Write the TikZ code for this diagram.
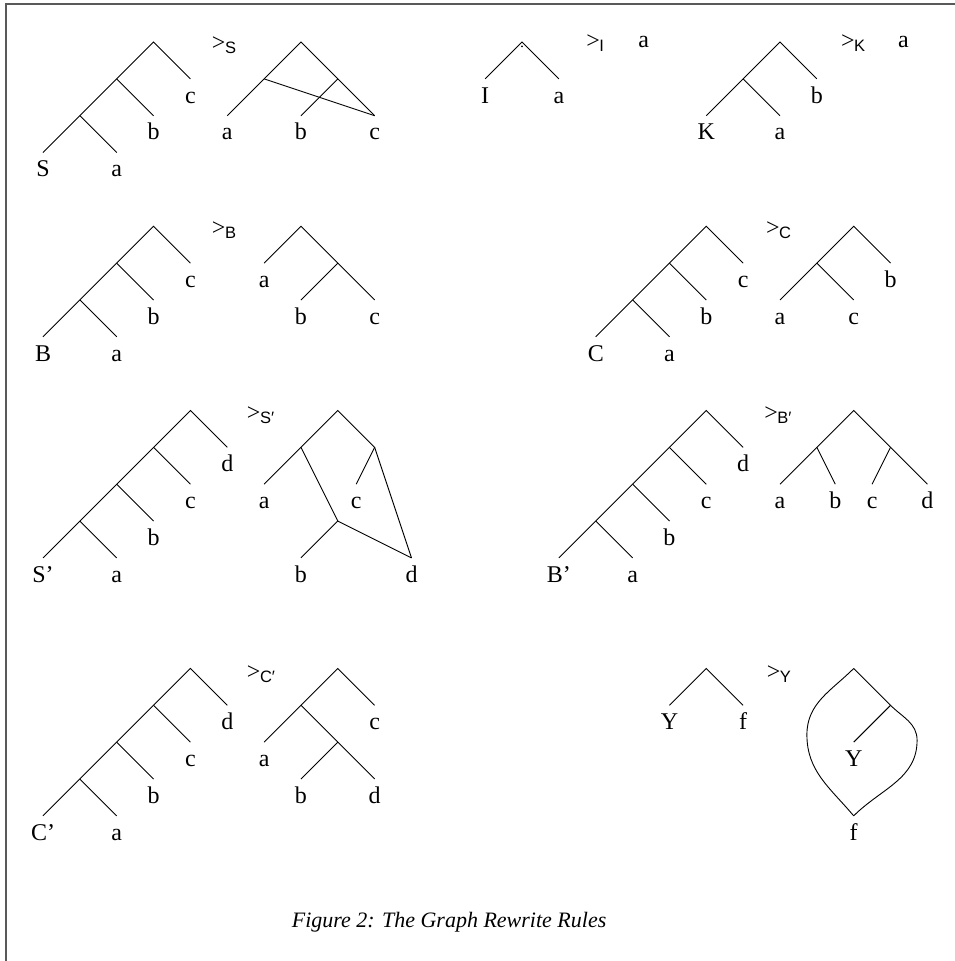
\documentclass[tikz,border=0pt]{standalone}
\usepackage{fontspec}
\setmainfont{Liberation Serif}
\setsansfont{Liberation Sans}
\usetikzlibrary{positioning}

\newcommand{\rwto}[1]{\raisebox{3pt}{\fontsize{24}{24}\selectfont >}\kern-0.5pt\textsf{\fontsize{16.5}{16.5}\selectfont #1}}

\begin{document}
\begin{tikzpicture}[
    x=36.85pt, y=36.85pt,
    edge/.style={line width=0.9pt},
    leaf/.style={anchor=north, inner sep=0pt, text height=24pt, text depth=6pt,
                 font=\fontsize{24}{24}\selectfont},
    rule/.style={anchor=base west, inner sep=0pt},
    result/.style={anchor=base west, inner sep=0pt, font=\fontsize{24}{24}\selectfont},
    caption/.style={anchor=base, inner sep=0pt, font=\fontsize{22}{22}\selectfont\itshape},
    frame/.style={draw=black!65, line width=1.6pt},
]
    \useasboundingbox (-1.167,1.140) rectangle (24.749,-24.939);

    % ── Frame (left and top edges only) ──
    \draw[frame] (-1.004,-24.939) -- (-1.004,1.031) -- (24.749,1.031);

    % ── S rule ──
    \coordinate (sl0) at (3,0);
    \coordinate (sl1) at (2,-1);
    \coordinate (sl2) at (1,-2);
    \node[leaf] (slf) at (0,-3) {S};
    \node[leaf] (sla) at (2,-3) {a};
    \node[leaf] (slb) at (3,-2) {b};
    \node[leaf] (slc) at (4,-1) {c};
    \draw[edge] (slf.north) -- (sl2) -- (sl1) -- (sl0) -- (slc.north);
    \draw[edge] (sl1) -- (slb.north);
    \draw[edge] (sl2) -- (sla.north);

    \node[rule] (sto) at (4.58,-0.30) {\rwto{S}};

    \coordinate (sr0) at (7,0);
    \coordinate (srl) at (6,-1);
    \coordinate (srr) at (8,-1);
    \node[leaf] (sra) at (5,-2) {a};
    \node[leaf] (srb) at (7,-2) {b};
    \node[leaf] (src) at (9,-2) {c};
    \draw[edge] (sra.north) -- (srl) -- (sr0) -- (srr) -- (src.north);
    \draw[edge] (srr) -- (srb.north);
    \draw[edge] (srl) -- (src.north);

    % ── I rule ──
    \coordinate (il0) at (13,0);
    \node[leaf] (ilf) at (12,-1) {I};
    \node[leaf] (ila) at (14,-1) {a};
    \draw[edge] (ilf.north) -- (il0) -- (ila.north);
    \fill (13,-0.12) circle (1pt);

    \node[rule] (ito) at (14.74,-0.27) {\rwto{I}};
    \node[result] (ires) at (16.15,-0.14) {a};

    % ── K rule ──
    \coordinate (kl0) at (20,0);
    \coordinate (kl1) at (19,-1);
    \node[leaf] (klf) at (18,-2) {K};
    \node[leaf] (kla) at (20,-2) {a};
    \node[leaf] (klb) at (21,-1) {b};
    \draw[edge] (klf.north) -- (kl1) -- (kl0) -- (klb.north);
    \draw[edge] (kl1) -- (kla.north);

    \node[rule] (kto) at (21.65,-0.27) {\rwto{K}};
    \node[result] (kres) at (23.2,-0.14) {a};

    % ── B rule ──
    \coordinate (bl0) at (3,-5);
    \coordinate (bl1) at (2,-6);
    \coordinate (bl2) at (1,-7);
    \node[leaf] (blf) at (0,-8) {B};
    \node[leaf] (bla) at (2,-8) {a};
    \node[leaf] (blb) at (3,-7) {b};
    \node[leaf] (blc) at (4,-6) {c};
    \draw[edge] (blf.north) -- (bl2) -- (bl1) -- (bl0) -- (blc.north);
    \draw[edge] (bl1) -- (blb.north);
    \draw[edge] (bl2) -- (bla.north);

    \node[rule] (bto) at (4.58,-5.32) {\rwto{B}};

    \coordinate (br0) at (7,-5);
    \coordinate (brr) at (8,-6);
    \node[leaf] (bra) at (6,-6) {a};
    \node[leaf] (brb) at (7,-7) {b};
    \node[leaf] (brc) at (9,-7) {c};
    \draw[edge] (bra.north) -- (br0) -- (brr) -- (brc.north);
    \draw[edge] (brr) -- (brb.north);

    % ── C rule ──
    \coordinate (cl0) at (18,-5);
    \coordinate (cl1) at (17,-6);
    \coordinate (cl2) at (16,-7);
    \node[leaf] (clf) at (15,-8) {C};
    \node[leaf] (cla) at (17,-8) {a};
    \node[leaf] (clb) at (18,-7) {b};
    \node[leaf] (clc) at (19,-6) {c};
    \draw[edge] (clf.north) -- (cl2) -- (cl1) -- (cl0) -- (clc.north);
    \draw[edge] (cl1) -- (clb.north);
    \draw[edge] (cl2) -- (cla.north);

    \node[rule] (cto) at (19.62,-5.32) {\rwto{C}};

    \coordinate (cr0) at (22,-5);
    \coordinate (crl) at (21,-6);
    \node[leaf] (cra) at (20,-7) {a};
    \node[leaf] (crc) at (22,-7) {c};
    \node[leaf] (crb) at (23,-6) {b};
    \draw[edge] (cra.north) -- (crl) -- (cr0) -- (crb.north);
    \draw[edge] (crl) -- (crc.north);

    % ── S' rule ──
    \coordinate (spl0) at (4,-10);
    \coordinate (spl1) at (3,-11);
    \coordinate (spl2) at (2,-12);
    \coordinate (spl3) at (1,-13);
    \node[leaf] (splf) at (0,-14) {S’};
    \node[leaf] (spla) at (2,-14) {a};
    \node[leaf] (splb) at (3,-13) {b};
    \node[leaf] (splc) at (4,-12) {c};
    \node[leaf] (spld) at (5,-11) {d};
    \draw[edge] (splf.north) -- (spl3) -- (spl2) -- (spl1) -- (spl0) -- (spld.north);
    \draw[edge] (spl1) -- (splc.north);
    \draw[edge] (spl2) -- (splb.north);
    \draw[edge] (spl3) -- (spla.north);

    \node[rule] (spto) at (5.53,-10.34) {\rwto{S′}};

    \coordinate (spr0) at (8,-10);
    \coordinate (sprl) at (7,-11);
    \coordinate (sprr) at (9,-11);
    \coordinate (sprm) at (8,-13);
    \node[leaf] (spra) at (6,-12) {a};
    \node[leaf] (sprc) at (8.5,-12) {c};
    \node[leaf] (sprb) at (7,-14) {b};
    \node[leaf] (sprd) at (10,-14) {d};
    \draw[edge] (spra.north) -- (sprl) -- (spr0) -- (sprr) -- (sprc.north);
    \draw[edge] (sprl) -- (sprm) -- (sprb.north);
    \draw[edge] (sprm) -- (sprd.north);
    \draw[edge] (sprr) -- (sprd.north);

    % ── B' rule ──
    \coordinate (bpl0) at (18,-10);
    \coordinate (bpl1) at (17,-11);
    \coordinate (bpl2) at (16,-12);
    \coordinate (bpl3) at (15,-13);
    \node[leaf] (bplf) at (14,-14) {B’};
    \node[leaf] (bpla) at (16,-14) {a};
    \node[leaf] (bplb) at (17,-13) {b};
    \node[leaf] (bplc) at (18,-12) {c};
    \node[leaf] (bpld) at (19,-11) {d};
    \draw[edge] (bplf.north) -- (bpl3) -- (bpl2) -- (bpl1) -- (bpl0) -- (bpld.north);
    \draw[edge] (bpl1) -- (bplc.north);
    \draw[edge] (bpl2) -- (bplb.north);
    \draw[edge] (bpl3) -- (bpla.north);

    \node[rule] (bpto) at (19.57,-10.34) {\rwto{B′}};

    \coordinate (bpr0) at (22,-10);
    \coordinate (bprl) at (21,-11);
    \coordinate (bprr) at (23,-11);
    \node[leaf] (bpra) at (20,-12) {a};
    \node[leaf] (bprb) at (21.5,-12) {b};
    \node[leaf] (bprc) at (22.5,-12) {c};
    \node[leaf] (bprd) at (24,-12) {d};
    \draw[edge] (bpra.north) -- (bprl) -- (bpr0) -- (bprr) -- (bprd.north);
    \draw[edge] (bprl) -- (bprb.north);
    \draw[edge] (bprr) -- (bprc.north);

    % ── C' rule ──
    \coordinate (cpl0) at (4,-17);
    \coordinate (cpl1) at (3,-18);
    \coordinate (cpl2) at (2,-19);
    \coordinate (cpl3) at (1,-20);
    \node[leaf] (cplf) at (0,-21) {C’};
    \node[leaf] (cpla) at (2,-21) {a};
    \node[leaf] (cplb) at (3,-20) {b};
    \node[leaf] (cplc) at (4,-19) {c};
    \node[leaf] (cpld) at (5,-18) {d};
    \draw[edge] (cplf.north) -- (cpl3) -- (cpl2) -- (cpl1) -- (cpl0) -- (cpld.north);
    \draw[edge] (cpl1) -- (cplc.north);
    \draw[edge] (cpl2) -- (cplb.north);
    \draw[edge] (cpl3) -- (cpla.north);

    \node[rule] (cpto) at (5.53,-17.37) {\rwto{C′}};

    \coordinate (cpr0) at (8,-17);
    \coordinate (cprl) at (7,-18);
    \coordinate (cprm) at (8,-19);
    \node[leaf] (cprc) at (9,-18) {c};
    \node[leaf] (cpra) at (6,-19) {a};
    \node[leaf] (cprb) at (7,-20) {b};
    \node[leaf] (cprd) at (9,-20) {d};
    \draw[edge] (cpra.north) -- (cprl) -- (cpr0) -- (cprc.north);
    \draw[edge] (cprl) -- (cprm) -- (cprd.north);
    \draw[edge] (cprm) -- (cprb.north);

    % ── Y rule ──
    \coordinate (yl0) at (18,-17);
    \node[leaf] (ylf) at (17,-18) {Y};
    \node[leaf] (yla) at (19,-18) {f};
    \draw[edge] (ylf.north) -- (yl0) -- (yla.north);

    \node[rule] (yto) at (19.64,-17.37) {\rwto{Y}};

    \coordinate (yr0) at (22,-17);
    \coordinate (yrj) at (23,-18);
    \coordinate (yre) at (23.72,-18.95);
    \coordinate (yrw) at (20.73,-18.8);
    \node[leaf] (yry) at (22,-19) {Y};
    \node[leaf] (yrf) at (22,-21) {f};
    \draw[edge] (yr0) -- (yrj) to[out=-45,in=90] (yre) to[out=-90,in=45] (yrf.north);
    \draw[edge] (yr0) to[out=-135,in=90] (yrw) to[out=-90,in=130] (yrf.north);
    \draw[edge] (yrj) -- (yry.north);

    % ── Caption ──
    \node[caption] (cap) at (11.02,-24.02) {Figure 2: The Graph Rewrite Rules};

\end{tikzpicture}
\end{document}
